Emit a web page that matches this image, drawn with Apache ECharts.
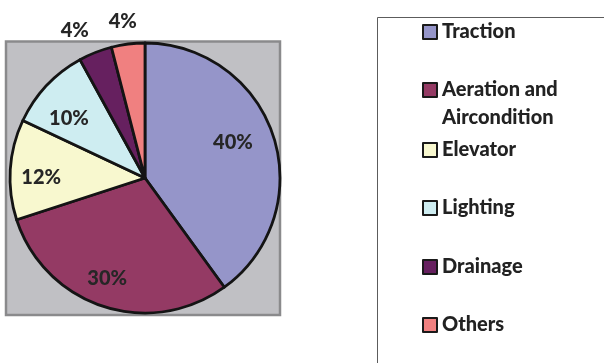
<!DOCTYPE html>
<html>
<head>
<meta charset="utf-8">
<style>
  html, body { margin: 0; padding: 0; background: #ffffff; }
  #chart { width: 604px; height: 363px; }
</style>
<script src="https://cdn.jsdelivr.net/npm/echarts@6/dist/echarts.min.js"></script>
</head>
<body>
<div id="chart"></div>
<script>
// Energy consumption shares by subsystem (%)
const categories = ['Traction', 'Aeration and Aircondition', 'Elevator', 'Lighting', 'Drainage', 'Others'];
const shares = [40, 30, 12, 10, 4, 4];
const sliceColors = ['#9595C9', '#943A64', '#F8F8CF', '#CEEDF1', '#66205F', '#F08080'];

// Layout
const CX = 145, CY = 178, R = 135;
const FONT = 'Lato, "Open Sans", sans-serif';
const WEIGHT = 900;
const LABEL_COLOR = '#262626';
const legendCenters = [32, 90, 150, 208, 267, 325];
const smallShare = 5; // slices below this get their label outside the pie
// fine nudges of the percentage labels, by slice index
const labelNudges = { 0: [-10, -4], 1: [-6, 3], 2: [-1, 6], 3: [-1, 11], 4: [-11, 2], 5: [-2, 3] };

const chart = echarts.init(document.getElementById('chart'), null, { renderer: 'canvas' });

const pieData = categories.map((name, i) => ({
  name: name,
  value: shares[i],
  itemStyle: { color: sliceColors[i] }
}));

const labelStyle = {
  fontFamily: FONT,
  fontWeight: WEIGHT,
  fontSize: 20,
  color: LABEL_COLOR,
  formatter: p => p.value + '%'
};

// Transparent label rings: one inside the pie for large slices, one just beyond it for small slices
function labelRing(radius, showFn) {
  return {
    type: 'pie',
    center: [CX, CY],
    radius: radius,
    startAngle: 90,
    clockwise: true,
    silent: true,
    animation: false,
    z: 5,
    itemStyle: { color: 'rgba(0,0,0,0)', borderWidth: 0 },
    emphasis: { disabled: true },
    labelLine: { show: false },
    data: categories.map((name, i) => {
      const show = showFn(shares[i]);
      const lab = Object.assign({ show: show, position: 'inside' }, labelStyle);
      if (show && labelNudges[i]) lab.offset = labelNudges[i];
      return { name: name, value: shares[i], label: lab };
    })
  };
}

const legendNames = categories.map(n => n === 'Aeration and Aircondition' ? '\nAeration and\nAircondition' : n);

const legends = categories.map((name, i) => {
  const multi = legendNames[i].indexOf('\n') >= 0;
  const lh = multi ? 28 : 24;
  const top = multi ? legendCenters[i] - lh * 1.5 : legendCenters[i] - lh / 2;
  return {
    data: [name],
    left: 422,
    top: top,
    orient: 'vertical',
    padding: 0,
    icon: 'rect',
    itemWidth: 14,
    itemHeight: 14,
    selectedMode: false,
    itemStyle: { borderColor: '#1a1a1a', borderWidth: 2 },
    formatter: () => legendNames[i],
    textStyle: {
      fontFamily: FONT,
      fontWeight: WEIGHT,
      fontSize: 20,
      lineHeight: lh,
      color: '#222222'
    }
  };
});

chart.setOption({
  backgroundColor: '#ffffff',
  animation: false,
  graphic: [
    {
      type: 'rect',
      z: 0,
      shape: { x: 6, y: 41.5, width: 274, height: 273.5 },
      style: { fill: '#C0C0C4', stroke: '#8A8A8C', lineWidth: 2.5 }
    },
    {
      type: 'rect',
      z: 0,
      shape: { x: 377.5, y: 17.5, width: 300, height: 400 },
      style: { fill: 'none', stroke: '#5c5c5c', lineWidth: 1 }
    }
  ],
  legend: legends,
  series: [
    {
      type: 'pie',
      center: [CX, CY],
      radius: R,
      startAngle: 90,
      clockwise: true,
      animation: false,
      z: 2,
      itemStyle: { borderColor: '#141414', borderWidth: 2.8 },
      label: { show: false },
      labelLine: { show: false },
      emphasis: { disabled: true },
      data: pieData
    },
    labelRing([65, 135], v => v >= smallShare),
    labelRing([150, 166], v => v < smallShare)
  ]
});
</script>
</body>
</html>
